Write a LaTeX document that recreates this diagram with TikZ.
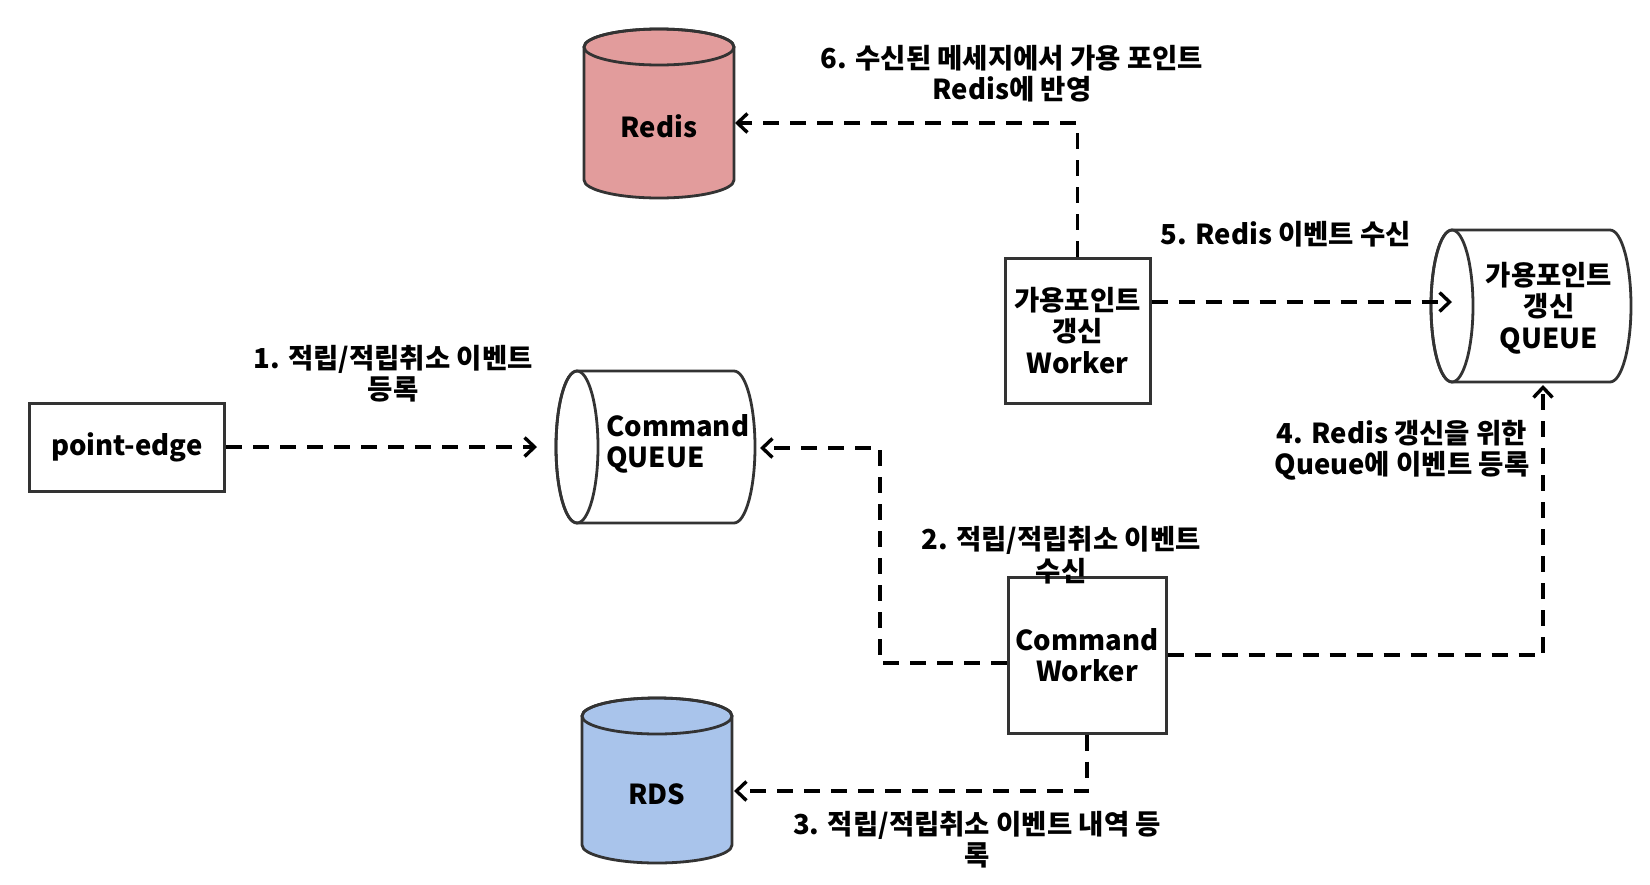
\documentclass[tikz,border=0pt]{standalone}
\usepackage{fontspec}
\setmainfont{Noto Sans CJK KR}
\usetikzlibrary{arrows.meta,calc}
\definecolor{redisfill}{HTML}{E29C9C}
\definecolor{rdsfill}{HTML}{A9C4EB}
\definecolor{edgegray}{HTML}{333333}
\begin{document}
\begin{tikzpicture}[x=1pt,y=1pt,
  lbl/.style={font=\bfseries\fontsize{27.5}{31.5}\selectfont, align=center, inner sep=0pt, text=black},
  box/.style={draw=edgegray, line width=3pt, fill=white, lbl},
  cylline/.style={draw=edgegray, line width=2.8pt},
  flow/.style={line width=3.4pt, dash pattern=on 16pt off 11pt, -{Straight Barb[length=10pt,width=19pt]}}
]
\useasboundingbox (0,0) rectangle (1650,-884);
\fill[white] (0,0) rectangle (1650,-884);

% Redis cylinder
\path[fill=redisfill, cylline] (584,-47) -- (584,-180) arc[start angle=180,end angle=360,x radius=75,y radius=18] -- (734,-47) arc[start angle=0,end angle=180,x radius=75,y radius=18] -- cycle;
\draw[cylline] (659,-47) ellipse[x radius=75,y radius=18];
\node[lbl] (redis) at (659,-126) {Redis};

% RDS cylinder
\path[fill=rdsfill, cylline] (582,-716) -- (582,-845) arc[start angle=180,end angle=360,x radius=75,y radius=18] -- (732,-716) arc[start angle=0,end angle=180,x radius=75,y radius=18] -- cycle;
\draw[cylline] (657,-716) ellipse[x radius=75,y radius=18];
\node[lbl] (rds) at (657,-794) {RDS};

% Command QUEUE
\path[fill=white, cylline] (577,-371) -- (734,-371) arc[start angle=90,end angle=-90,x radius=21,y radius=76] -- (577,-523) arc[start angle=270,end angle=90,x radius=21,y radius=76] -- cycle;
\draw[cylline] (577,-447) ellipse[x radius=21,y radius=76];
\node[lbl, align=left, anchor=west] (cq) at (606,-444) {Command\\QUEUE};

% 가용포인트 갱신 QUEUE
\path[fill=white, cylline] (1452,-230) -- (1610,-230) arc[start angle=90,end angle=-90,x radius=21,y radius=76] -- (1452,-382) arc[start angle=270,end angle=90,x radius=21,y radius=76] -- cycle;
\draw[cylline] (1452,-306) ellipse[x radius=21,y radius=76];
\node[lbl] (gq) at (1549,-308) {가용포인트\\갱신\\QUEUE};

% boxes
\node[box, minimum width=195, minimum height=88] (pe) at (127,-447) {point-edge};
\node[box, minimum width=158, minimum height=156] (cw) at (1087,-655) {Command\\Worker};
\node[box, minimum width=145, minimum height=145] (gw) at (1077.5,-330.5) {가용포인트\\갱신\\Worker};

% connector coordinates
\coordinate (cqW) at (537,-447);
\coordinate (c2a) at (880,-663);
\coordinate (c2b) at (880,-448);
\coordinate (cqE) at (760,-448);
\coordinate (c3) at (1087,-791);
\coordinate (rdsE) at (734,-791);
\coordinate (c4) at (1543,-655);
\coordinate (gqS) at (1543,-385);
\coordinate (gqW) at (1452,-302);
\coordinate (c6) at (1077.5,-123);
\coordinate (redisE) at (735,-123);

% connectors
\draw[flow] (pe.east) -- (cqW);
\draw[flow] ($(cw.west)+(0,-8)$) -- (c2a) -- (c2b) -- (cqE);
\draw[flow] (cw.south) -- (c3) -- (rdsE);
\draw[flow] (cw.east) -- (c4) -- (gqS);
\draw[flow] (gw.east |- gqW) -- (gqW);
\draw[flow] (gw.north) -- (c6) -- (redisE);

% labels
\node[lbl] (l1) at (393,-373.5) {1. 적립/적립취소 이벤트\\등록};
\node[lbl] (l2) at (1061,-555) {2. 적립/적립취소 이벤트\\수신};
\node[lbl] (l3) at (977,-839.5) {3. 적립/적립취소 이벤트 내역 등\\록};
\node[lbl] (l4) at (1402,-450.5) {4. Redis 갱신을 위한\\Queue에 이벤트 등록};
\node[lbl] (l5) at (1286,-234) {5. Redis 이벤트 수신};
\node[lbl] (l6) at (1012,-73.5) {6. 수신된 메세지에서 가용 포인트\\Redis에 반영};
\end{tikzpicture}
\end{document}
